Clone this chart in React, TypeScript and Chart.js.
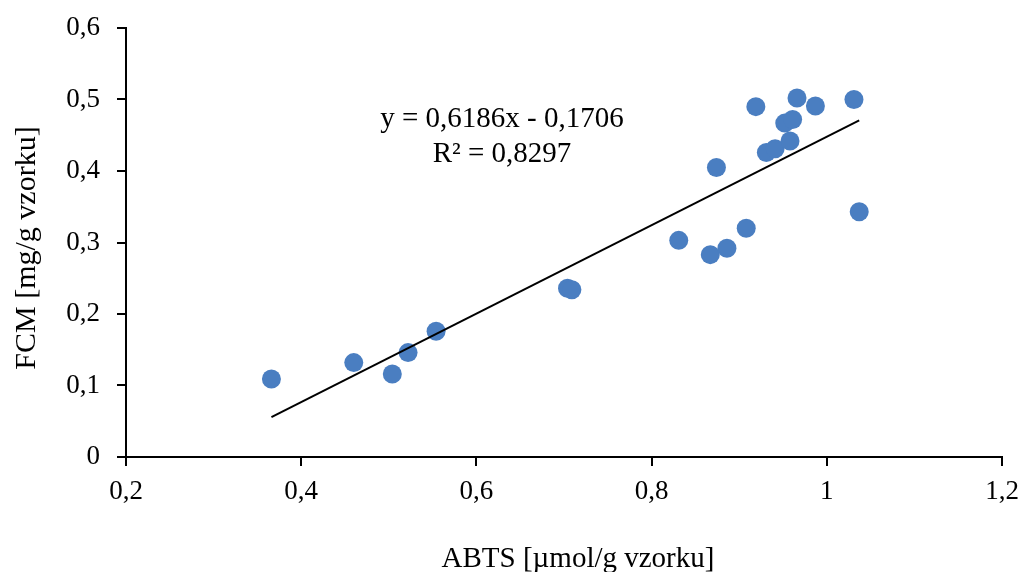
import React, { useEffect, useRef } from "react";
import { Chart, registerables } from "chart.js";

Chart.register(...registerables);

// ABTS [µmol/g vzorku]
const abtsValues = [0.366, 0.460, 0.504, 0.522, 0.554, 0.704, 0.709, 0.831, 0.867, 0.874, 0.886, 0.908, 0.919, 0.931, 0.941, 0.952, 0.958, 0.961, 0.966, 0.987, 1.031, 1.037];
// FCM [mg/g vzorku]
const fcmValues = [0.109, 0.132, 0.116, 0.146, 0.176, 0.236, 0.234, 0.303, 0.283, 0.405, 0.292, 0.320, 0.490, 0.426, 0.431, 0.467, 0.442, 0.472, 0.502, 0.491, 0.500, 0.343];

const xTickValues = [0.2, 0.4, 0.6, 0.8, 1.0, 1.2];
const xTickLabels = ["0,2", "0,4", "0,6", "0,8", "1", "1,2"];
const yTickValues = [0, 0.1, 0.2, 0.3, 0.4, 0.5, 0.6];
const yTickLabels = ["0", "0,1", "0,2", "0,3", "0,4", "0,5", "0,6"];

const trendSlope = 0.6186;
const trendIntercept = -0.1706;
const equationText = "y = 0,6186x - 0,1706";
const r2Text = "R² = 0,8297";
const xTitle = "ABTS [µmol/g vzorku]";
const yTitle = "FCM [mg/g vzorku]";

const FONT = "'Liberation Serif', 'Times New Roman', serif";

export default function App() {
  const canvasRef = useRef<HTMLCanvasElement | null>(null);

  useEffect(() => {
    const canvas = canvasRef.current;
    if (!canvas) return;

    const points = abtsValues.map((x, i) => ({ x, y: fcmValues[i] }));
    const minX = Math.min(...abtsValues);
    const maxX = Math.max(...abtsValues);
    const trend = [
      { x: minX, y: trendSlope * minX + trendIntercept },
      { x: maxX, y: trendSlope * maxX + trendIntercept },
    ];

    const textPlugin = {
      id: "texts",
      afterDraw(chart: any) {
        const ctx = chart.ctx;
        ctx.save();
        ctx.fillStyle = "#000";
        ctx.textBaseline = "alphabetic";
        ctx.textAlign = "center";
        ctx.font = `29px ${FONT}`;
        ctx.fillText(equationText, 502, 127);
        ctx.fillText(r2Text, 502, 162);
        ctx.font = `29px ${FONT}`;
        ctx.fillText(xTitle, 578, 567);
        ctx.font = `30px ${FONT}`;
        ctx.translate(35, 248);
        ctx.rotate(-Math.PI / 2);
        ctx.fillText(yTitle, 0, 0);
        ctx.restore();
      },
    };

    const chart = new Chart(canvas, {
      type: "scatter",
      data: {
        datasets: [
          {
            label: "trend",
            data: trend,
            showLine: true,
            borderColor: "#000",
            borderWidth: 2,
            pointRadius: 0,
            order: 0,
          } as any,
          {
            label: "FCM",
            data: points,
            backgroundColor: "#4A7EC1",
            borderWidth: 0,
            pointRadius: 9.5,
            pointHoverRadius: 9.5,
            order: 1,
          },
        ],
      },
      options: {
        responsive: false,
        animation: false,
        layout: { padding: { top: 28, right: 20, left: 0, bottom: 0 } },
        plugins: {
          legend: { display: false },
          tooltip: { enabled: false },
        },
        scales: {
          x: {
            type: "linear",
            min: 0.2,
            max: 1.2,
            afterBuildTicks: (scale: any) => {
              scale.ticks = xTickValues.map((v) => ({ value: v }));
            },
            afterFit: (scale: any) => {
              scale.height = 115;
              scale.paddingLeft = 0;
              scale.paddingRight = 0;
            },
            ticks: {
              color: "#000",
              font: { family: FONT, size: 27, lineHeight: 1.2 },
              padding: 10,
              maxRotation: 0,
              autoSkip: false,
              callback: (v: any) => {
                const i = xTickValues.findIndex((t) => Math.abs(t - Number(v)) < 1e-9);
                return i >= 0 ? xTickLabels[i] : "";
              },
            },
            grid: {
              display: true,
              drawOnChartArea: false,
              drawTicks: true,
              tickLength: 9,
              color: "#000",
              lineWidth: 2,
            },
            border: { display: true, color: "#000", width: 2 },
          },
          y: {
            type: "linear",
            min: 0,
            max: 0.6,
            afterBuildTicks: (scale: any) => {
              scale.ticks = yTickValues.map((v) => ({ value: v }));
            },
            afterFit: (scale: any) => {
              scale.width = 126;
              scale.paddingTop = 0;
              scale.paddingBottom = 0;
            },
            ticks: {
              color: "#000",
              font: { family: FONT, size: 27, lineHeight: 1.2 },
              padding: 17,
              autoSkip: false,
              callback: (v: any) => {
                const i = yTickValues.findIndex((t) => Math.abs(t - Number(v)) < 1e-9);
                return i >= 0 ? yTickLabels[i] : "";
              },
            },
            grid: {
              display: true,
              drawOnChartArea: false,
              drawTicks: true,
              tickLength: 9,
              color: "#000",
              lineWidth: 2,
            },
            border: { display: true, color: "#000", width: 2 },
          },
        },
      },
      plugins: [textPlugin],
    });

    return () => {
      chart.destroy();
    };
  }, []);

  return (
    <div style={{ position: "fixed", left: 0, top: 0, width: 1022, height: 572, background: "#fff" }}>
      <canvas ref={canvasRef} width={1022} height={572} style={{ display: "block" }} />
    </div>
  );
}
